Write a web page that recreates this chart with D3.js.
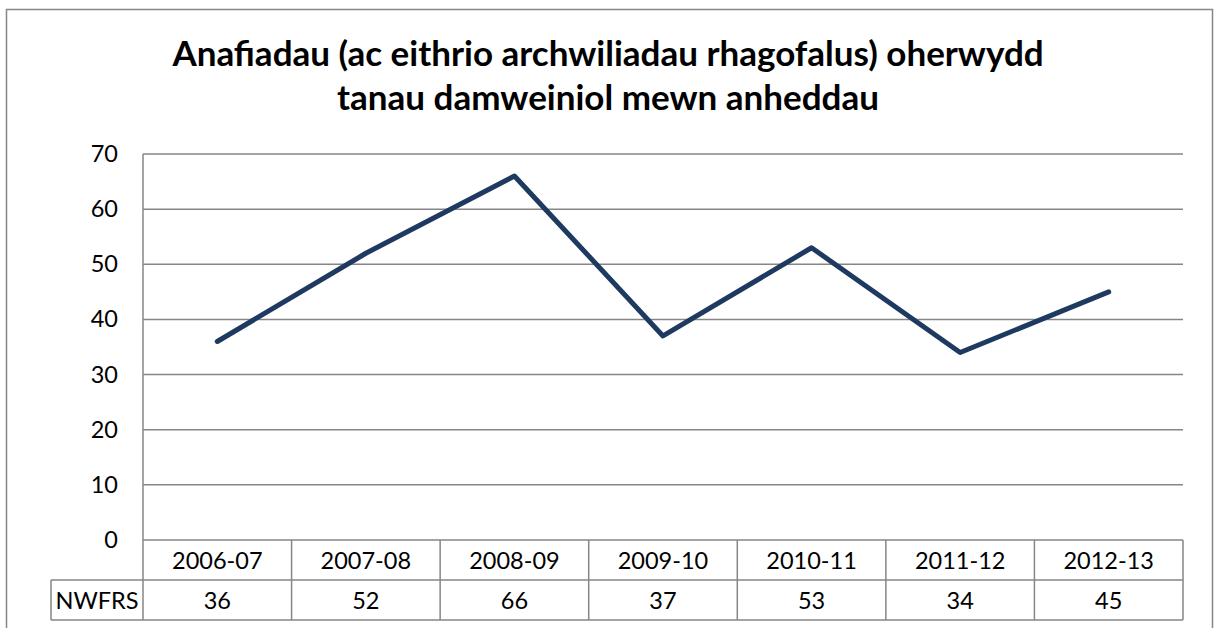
<!DOCTYPE html>
<html>
<head>
  <meta charset="utf-8">
  <title>Anafiadau</title>
  <script src="https://cdn.jsdelivr.net/npm/d3@7"></script>
  <style>
    body { margin: 0; background: #fff; }
    text { font-family: Lato, "Open Sans", sans-serif; fill: #000; }
  </style>
</head>
<body>
<svg id="chart" width="1215" height="628"></svg>
<script>
  // data
  var categories = ["2006-07", "2007-08", "2008-09", "2009-10", "2010-11", "2011-12", "2012-13"];
  var seriesName = "NWFRS";
  var values = [36, 52, 66, 37, 53, 34, 45];
  var yTicks = [0, 10, 20, 30, 40, 50, 60, 70];
  var titleLines = ["Anafiadau (ac eithrio archwiliadau rhagofalus) oherwydd", "tanau damweiniol mewn anheddau"];

  // layout
  var plotLeft = 143, plotRight = 1183, plotTop = 154, plotBottom = 540,
      rowH = 40, tableLeft = 51, grid = "#868686";

  var svg = d3.select("#chart");

  // outer frame
  svg.append("rect").attr("x", 6.5).attr("y", 9.5).attr("width", 1206).attr("height", 630)
    .attr("fill", "none").attr("stroke", grid).attr("stroke-width", 1.5);

  // title
  svg.append("g").selectAll("text").data(titleLines).enter().append("text")
    .attr("x", 608).attr("y", function(d, i) { return 66 + i * 44; })
    .attr("text-anchor", "middle").style("font-size", "35px").style("font-weight", "bold")
    .text(function(d) { return d; });

  // scales
  var x = d3.scaleBand().domain(categories).range([plotLeft, plotRight]);
  var y = d3.scaleLinear().domain([0, 70]).range([plotBottom, plotTop]);

  // gridlines
  svg.append("g").selectAll("line").data(yTicks.filter(function(d) { return d > 0; })).enter().append("line")
    .attr("x1", plotLeft).attr("x2", plotRight)
    .attr("y1", function(d) { return y(d); }).attr("y2", function(d) { return y(d); })
    .attr("stroke", grid).attr("stroke-width", 1.5);

  // y axis line
  svg.append("line").attr("x1", plotLeft).attr("x2", plotLeft).attr("y1", plotTop).attr("y2", plotBottom + 2 * rowH)
    .attr("stroke", grid).attr("stroke-width", 1.5);

  // y labels
  svg.append("g").selectAll("text").data(yTicks).enter().append("text")
    .attr("x", 118).attr("y", function(d) { return y(d) + 8; })
    .attr("text-anchor", "end").style("font-size", "23.5px")
    .text(function(d) { return d; });

  // data table
  var table = svg.append("g");
  [[plotLeft, plotBottom], [tableLeft, plotBottom + rowH], [tableLeft, plotBottom + 2 * rowH]].forEach(function(r) {
    table.append("line").attr("x1", r[0]).attr("x2", plotRight).attr("y1", r[1]).attr("y2", r[1])
      .attr("stroke", grid).attr("stroke-width", 1.5);
  });
  table.append("line").attr("x1", tableLeft).attr("x2", tableLeft).attr("y1", plotBottom + rowH).attr("y2", plotBottom + 2 * rowH)
    .attr("stroke", grid).attr("stroke-width", 1.5);
  table.selectAll(".sep").data(categories).enter().append("line")
    .attr("x1", function(d) { return x(d) + x.bandwidth(); }).attr("x2", function(d) { return x(d) + x.bandwidth(); })
    .attr("y1", plotBottom).attr("y2", plotBottom + 2 * rowH)
    .attr("stroke", grid).attr("stroke-width", 1.5);

  table.selectAll(".cat").data(categories).enter().append("text")
    .attr("x", function(d) { return x(d) + x.bandwidth() / 2; }).attr("y", plotBottom + 29)
    .attr("text-anchor", "middle").style("font-size", "23.5px")
    .text(function(d) { return d; });
  table.selectAll(".val").data(values).enter().append("text")
    .attr("x", function(d, i) { return x(categories[i]) + x.bandwidth() / 2; }).attr("y", plotBottom + rowH + 29)
    .attr("text-anchor", "middle").style("font-size", "23.5px")
    .text(function(d) { return d; });
  table.append("text").attr("x", (tableLeft + plotLeft) / 2).attr("y", plotBottom + rowH + 29)
    .attr("text-anchor", "middle").style("font-size", "23.5px").text(seriesName);

  // line
  var line = d3.line()
    .x(function(d, i) { return x(categories[i]) + x.bandwidth() / 2; })
    .y(function(d) { return y(d); });
  svg.append("path").datum(values).attr("d", line)
    .attr("fill", "none").attr("stroke", "#1F3A60").attr("stroke-width", 5)
    .attr("stroke-linejoin", "round").attr("stroke-linecap", "round");
</script>
</body>
</html>
